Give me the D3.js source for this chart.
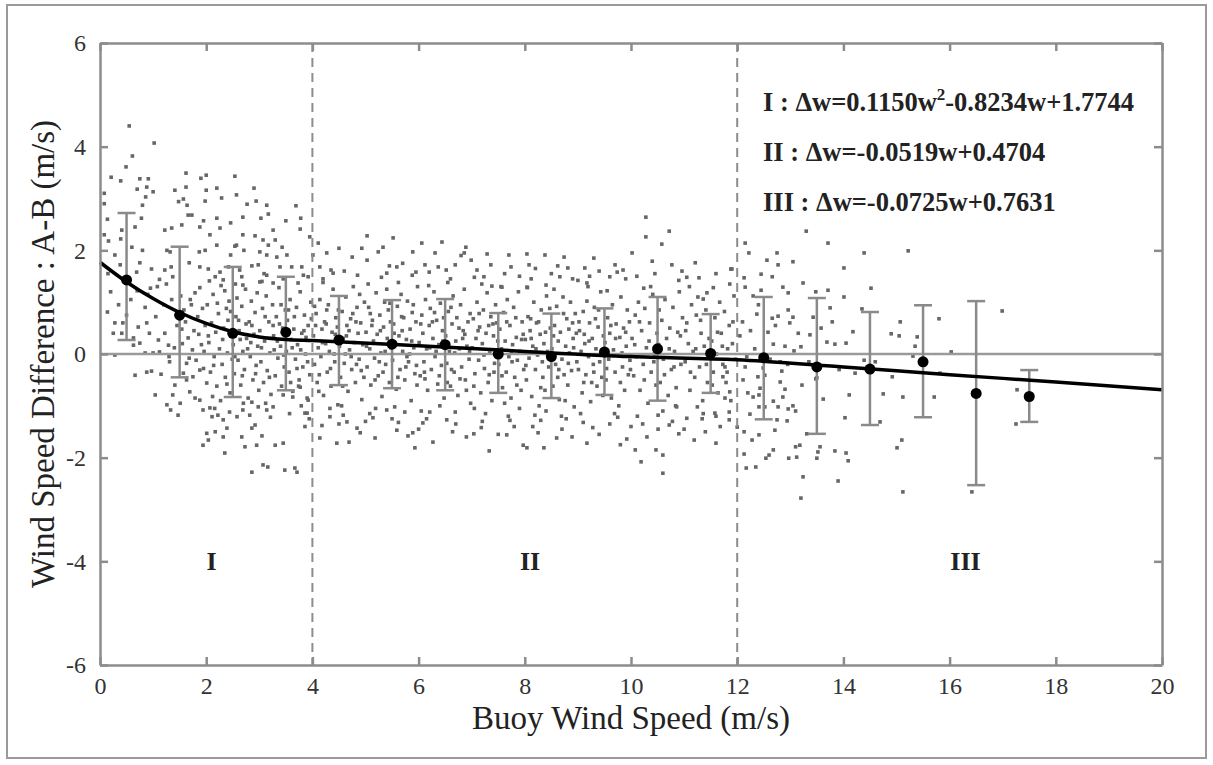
<!DOCTYPE html>
<html>
<head>
<meta charset="utf-8">
<script src="https://cdn.jsdelivr.net/npm/d3@7/dist/d3.min.js"></script>
<style>
  body { margin: 0; background: #fff; }
  svg { display: block; font-family: "Liberation Serif", "Times New Roman", serif; }
  .axis path, .axis line { stroke: #8c8c8c; stroke-width: 2.5; }
  .axis text { font-size: 24px; fill: #333; font-family: "Liberation Serif", serif; }
</style>
</head>
<body>
<div id="chart"></div>
<script>
// tick values
var xTicks = [0, 2, 4, 6, 8, 10, 12, 14, 16, 18, 20];
var yTicks = [-6, -4, -2, 0, 2, 4, 6];

// region boundaries (m/s)
var regionBounds = [4, 12];
var regionNames = ["I", "II", "III"];

// bin means with error bars
var binSpeed = [0.5, 1.5, 2.5, 3.5, 4.5, 5.5, 6.5, 7.5, 8.5, 9.5, 10.5, 11.5, 12.5, 13.5, 14.5, 15.5, 16.5, 17.5];
var binMean = [1.43, 0.75, 0.40, 0.42, 0.27, 0.19, 0.18, 0.00, -0.05, 0.04, 0.10, 0.01, -0.07, -0.25, -0.29, -0.15, -0.76, -0.82];
var binTop = [2.72, 2.07, 1.68, 1.49, 1.12, 1.04, 1.06, 0.79, 0.78, 0.88, 1.10, 0.77, 1.10, 1.08, 0.81, 0.94, 1.02, -0.31];
var binBottom = [0.27, -0.45, -0.83, -0.70, -0.60, -0.66, -0.70, -0.75, -0.85, -0.79, -0.90, -0.75, -1.26, -1.54, -1.37, -1.22, -2.53, -1.31];

// fitted curve
var fitSpeed = [0, 0.5, 1, 1.5, 2, 2.5, 3, 3.5, 4, 6, 8, 10, 12, 14, 16, 18, 20];
var fitDiff = [1.77, 1.39, 1.07, 0.80, 0.59, 0.43, 0.33, 0.28, 0.26, 0.16, 0.05, -0.05, -0.11, -0.25, -0.40, -0.54, -0.69];

// equations
var equations = [
  { lead: "I : \u0394w=0.1150w", sup: "2", tail: "-0.8234w+1.7744" },
  { lead: "II : \u0394w=-0.0519w+0.4704", sup: "", tail: "" },
  { lead: "III : \u0394w=-0.0725w+0.7631", sup: "", tail: "" }
];

// scatter, "speed,diff" pairs, 0-4 m/s
var scatterLow = "0.55,4.40 1.02,4.07 0.61,3.82 0.49,3.61 0.21,3.41 0.39,3.34 0.75,3.38 0.91,3.38 0.70,3.18 0.88,3.22 1.00,3.13 0.86,3.03 0.80,2.87 0.78,2.62 0.08,3.10 0.08,2.90 0.14,2.60 0.08,2.30 0.16,2.18 0.41,2.39 0.39,2.22 0.28,1.91 0.38,1.72 0.66,2.45 0.60,2.06 0.80,2.00 0.75,1.76 0.69,1.58 0.97,1.64 1.12,1.44 0.95,1.27 1.62,3.49 1.90,3.39 2.00,3.45 1.41,3.16 1.62,3.22 2.00,3.16 2.20,3.20 1.48,2.94 1.57,2.99 1.64,2.87 1.98,2.95 2.29,3.01 2.54,3.43 2.57,3.07 2.90,3.20 2.94,2.95 2.77,2.89 3.14,2.87 3.17,2.70 3.03,2.62 3.50,2.57 3.69,2.86 3.78,2.62 3.77,2.41 2.69,2.64 2.46,2.53 1.66,2.68 1.73,2.68 1.95,2.57 2.20,2.62 1.35,2.43 1.22,2.39 1.54,2.49 1.88,2.45 2.07,2.30 2.26,2.43 2.20,2.10 2.54,2.08 2.69,2.30 2.92,2.28 3.07,2.20 3.26,2.39 3.30,2.20 3.43,2.06 3.17,2.10 1.26,2.00 1.32,1.97 1.22,1.62 1.87,1.97 1.98,2.00 1.68,1.76 1.88,1.68 2.04,1.64 2.46,1.91 2.57,2.10 2.42,1.68 2.71,2.00 2.86,1.70 2.98,1.72 3.01,1.97 3.14,1.91 3.33,1.87 3.52,1.91 3.61,1.68 3.80,1.68 3.95,2.26 2.17,1.49 2.32,1.43 2.67,1.49 2.69,1.33 3.01,1.39 3.14,1.52 3.26,1.37 3.39,1.68 3.73,1.37 3.92,1.49 1.34,1.68 1.37,1.49 " +
  "0.14,0.81 0.28,0.60 0.25,0.40 0.41,0.40 0.43,0.60 0.28,-0.02 0.66,-0.41 0.88,-0.35 0.97,-0.33 1.15,-0.39 1.04,-0.79 0.63,0.31 0.63,0.17 0.72,0.52 0.88,0.60 0.93,0.40 0.85,0.02 1.00,0.02 1.12,0.04 1.22,0.40 1.29,0.17 1.10,0.27 0.75,0.21 1.31,-0.15 1.26,-0.98 1.33,-1.08 1.47,-1.18 1.37,-0.79 1.51,-0.95 1.41,-0.60 1.63,-0.50 1.57,-0.37 1.69,-0.73 1.79,-0.85 1.88,-0.89 1.75,-0.44 1.88,-0.31 2.01,-0.56 2.07,-1.04 1.94,-1.08 2.01,-1.53 2.04,-1.66 1.94,-1.76 2.11,-1.21 2.22,-1.18 2.32,-1.27 2.17,-1.50 2.32,-1.60 2.35,-1.91 2.39,-1.43 2.58,-1.21 2.69,-1.08 2.67,-1.60 2.73,-1.79 2.86,-1.43 2.92,-1.37 2.95,-1.76 3.05,-1.58 2.98,-1.02 2.86,-0.93 3.14,-1.08 3.26,-1.02 3.30,-1.76 3.45,-1.72 2.86,-2.28 3.07,-2.14 3.16,-2.18 3.48,-2.24 3.67,-2.20 3.71,-2.28 3.86,-1.14 3.86,-1.40 3.92,-0.89 3.45,-0.79 3.63,-0.83 3.77,-0.64 " +
  "0.20,1.20 0.35,0.95 0.50,0.75 0.58,1.05 0.70,1.22 0.85,0.90 1.05,0.72 1.20,0.95 1.35,1.05 1.45,0.55 1.40,0.12 1.30,-0.05 0.45,1.45 0.15,1.55 0.90,1.15 1.08,1.30 1.25,1.35 " +
  "1.52,1.12 1.58,0.85 1.61,0.62 1.66,0.31 1.70,1.05 1.74,0.08 1.77,0.45 1.81,-0.12 1.84,0.72 1.88,1.28 1.91,0.18 1.95,-0.28 1.98,0.55 1.55,0.20 1.63,-0.18 1.72,0.95 1.86,0.38 1.93,0.88 " +
  "2.02,0.95 2.05,0.22 2.08,-0.35 2.10,0.60 2.13,1.15 2.15,-0.05 2.18,0.42 2.20,-0.62 2.23,0.78 2.25,0.10 2.28,1.32 2.30,-0.20 2.33,0.50 2.36,-0.45 2.38,0.88 2.40,0.02 2.43,1.02 2.45,-0.75 2.47,0.35 2.49,-0.10 2.12,-0.82 2.27,-0.90 2.41,0.65 2.06,1.41 2.35,1.22 " +
  "2.51,0.18 2.53,-0.38 2.56,0.72 2.58,1.08 2.60,-0.12 2.62,0.45 2.65,-0.60 2.67,0.92 2.69,0.05 2.72,-0.30 2.74,1.25 2.76,0.30 2.79,-0.85 2.81,0.62 2.83,-0.05 2.85,1.02 2.88,-0.50 2.90,0.38 2.92,0.80 2.94,-0.22 2.97,0.15 2.99,-0.70 2.55,1.35 2.70,-0.95 2.86,0.55 2.64,0.28 2.78,0.10 " +
  "3.01,0.45 3.03,-0.15 3.06,0.88 3.08,-0.55 3.10,0.25 3.13,1.12 3.15,-0.32 3.18,0.62 3.20,0.02 3.22,-0.78 3.25,0.95 3.27,0.35 3.30,-0.42 3.32,0.72 3.35,-0.08 3.37,1.28 3.40,0.15 3.42,-0.62 3.44,0.50 3.47,-0.25 3.49,0.85 3.12,-0.95 3.28,0.08 3.38,0.58 3.05,1.40 " +
  "3.51,0.05 3.53,0.65 3.56,-0.35 3.58,1.05 3.60,0.28 3.63,-0.72 3.65,0.48 3.68,-0.10 3.70,0.90 3.72,0.18 3.75,-0.50 3.77,1.20 3.80,0.40 3.82,-0.25 3.85,0.75 3.87,0.00 3.90,-0.85 3.92,0.55 3.95,-0.40 3.97,1.00 3.62,0.12 3.74,-0.62 3.88,0.32 3.55,0.85 3.79,-1.00 " +
  "1.54,0.48 1.68,-0.08 1.79,1.18 1.96,0.05 2.04,0.35 2.14,-0.22 2.21,0.98 2.31,0.28 2.39,-0.58 2.46,0.82 2.54,-0.05 2.61,0.65 2.68,-0.42 2.75,0.58 2.84,0.22 2.93,-0.38 2.96,1.18 3.04,0.12 3.11,0.72 3.19,-0.45 3.26,0.55 3.34,0.25 3.41,0.95 3.46,-0.02 3.54,0.38 3.59,-0.55 3.66,0.72 3.71,-0.28 3.78,0.08 3.84,0.45 3.91,-0.15 3.98,0.68 2.16,-1.05 2.44,-1.12 2.82,-1.18 3.21,-1.22 3.57,-1.15 3.94,-1.25 2.26,1.58 2.63,1.62 3.09,1.55 3.45,1.45 3.83,1.52";

// scatter, 4-12 m/s
var scatterMid = "4.01,1.91 5.03,2.28 5.52,2.24 6.06,2.14 4.50,2.04 6.44,2.16 5.24,1.97 5.33,2.06 5.89,1.97 4.27,1.95 4.11,2.14 4.75,1.87 4.93,2.04 6.31,1.95 4.14,1.68 5.03,1.81 5.59,1.68 6.12,1.72 6.37,1.68 4.39,1.56 5.40,1.56 5.88,1.52 " +
  "4.14,-1.62 4.46,-1.72 4.69,-1.70 5.18,-1.62 5.93,-1.81 6.27,-1.70 5.59,-1.47 5.89,-1.52 6.08,-1.33 4.84,-1.43 4.65,-1.31 4.33,-1.21 3.90,-1.14 5.14,-1.23 5.40,-1.08 5.74,-1.12 6.21,-1.12 6.53,-1.27 " +
  "10.28,2.64 10.28,2.26 10.72,2.37 10.58,2.12 10.02,1.95 10.40,1.79 10.77,1.72 10.96,1.60 11.21,1.76 11.28,1.47 10.11,1.50 10.24,1.27 11.88,1.64 11.43,1.18 11.36,1.06 " +
  "10.19,-2.08 10.60,-2.30 10.08,-1.85 10.47,-1.85 10.60,-1.95 9.92,-1.64 10.90,-1.54 11.19,-1.66 11.60,-1.72 10.51,-1.45 10.72,-1.37 10.51,-1.18 10.86,-1.02 11.05,-1.24 11.34,-1.25 11.58,-1.14 7.33,-1.87 8.04,-1.81 8.36,-1.81 9.17,-1.72 7.97,-1.76 7.04,-1.54 8.89,-1.60 8.25,-1.52 7.66,-1.56 " +
  "6.89,2.06 6.86,1.95 7.29,1.93 7.70,1.91 8.04,1.93 8.38,1.91 8.74,1.87 7.36,1.72 7.74,1.68 8.08,1.72 8.81,1.66 9.13,1.66 9.70,1.72 9.74,1.58 7.23,1.49 7.57,1.29 8.04,1.29 8.40,1.33 8.66,1.49 9.17,1.37 9.60,1.49 6.69,1.72 6.99,1.81 7.38,1.31 " +
  "4.60,1.60 5.70,1.75 6.60,1.45 7.10,1.62 7.90,1.50 8.50,1.55 9.00,1.42 9.40,1.60 9.90,1.45 10.90,1.42 11.60,1.55 4.20,1.45 5.30,1.48 6.20,1.58 6.80,1.90 8.20,1.65 8.90,1.45 9.30,1.85 " +
  "4.50,-1.35 5.00,-1.30 5.50,-1.25 6.00,-1.45 6.70,-1.35 7.20,-1.30 7.80,-1.40 8.30,-1.28 8.70,-1.45 9.10,-1.32 9.60,-1.35 10.00,-1.40 11.00,-1.45 11.40,-1.50 4.90,-1.52 5.80,-1.58 6.90,-1.60 7.50,-1.55 8.60,-1.62 9.40,-1.55 9.80,-1.75 10.30,-1.60 " +
  "11.73,-0.44 11.77,-0.25 11.77,-0.85 11.86,-0.73 11.85,-1.12 11.85,-1.27 11.90,1.64 " +
  "4.02,0.35 4.04,-0.20 4.07,0.78 4.09,-0.55 4.11,0.12 4.14,1.05 4.16,-0.05 4.18,0.48 4.21,-0.80 4.23,0.62 4.25,0.20 4.28,-0.35 4.30,0.95 4.32,0.05 4.35,-0.62 4.37,0.42 4.39,1.25 4.42,-0.15 4.44,0.70 4.46,0.28 4.48,-0.98 4.06,0.55 4.20,1.38 4.33,-1.05 4.41,0.00 4.13,-0.40 4.27,0.85 4.47,0.52 " +
  "4.51,0.15 4.53,-0.45 4.56,0.82 4.58,0.30 4.60,-0.18 4.63,1.10 4.65,0.55 4.67,-0.72 4.70,0.08 4.72,0.68 4.74,-0.30 4.77,1.30 4.79,0.22 4.81,-0.55 4.84,0.90 4.86,0.40 4.88,-0.10 4.91,0.60 4.93,-0.88 4.95,0.18 4.98,1.00 4.55,-1.00 4.69,0.45 4.83,-0.20 4.97,-0.45 4.62,0.00 4.76,0.78 4.89,1.15 " +
  "5.01,0.42 5.03,-0.25 5.06,0.90 5.08,0.10 5.10,-0.60 5.13,0.65 5.15,0.25 5.17,-0.08 5.20,1.18 5.22,0.38 5.24,-0.42 5.27,0.75 5.29,0.02 5.31,-0.82 5.34,0.52 5.36,1.00 5.38,-0.20 5.41,0.30 5.43,0.85 5.45,-0.55 5.48,0.12 5.05,1.35 5.19,-1.05 5.33,-0.35 5.47,0.62 5.12,0.55 5.26,-0.15 5.40,1.25 " +
  "5.51,-0.12 5.53,0.58 5.56,0.20 5.58,-0.68 5.60,0.92 5.63,0.35 5.65,-0.30 5.67,1.15 5.70,0.05 5.72,0.70 5.74,-0.50 5.77,0.28 5.79,1.02 5.81,-0.15 5.84,0.48 5.86,-0.90 5.88,0.80 5.91,0.12 5.93,-0.38 5.95,0.62 5.98,1.30 5.55,-1.02 5.69,0.45 5.83,0.00 5.97,-0.60 5.62,1.38 5.76,-0.25 5.90,0.95 " +
  "6.01,0.22 6.03,-0.42 6.06,0.75 6.08,0.40 6.10,-0.15 6.13,1.05 6.15,0.10 6.17,-0.70 6.20,0.55 6.22,0.88 6.24,-0.30 6.27,0.30 6.29,1.20 6.31,-0.05 6.34,0.65 6.36,-0.58 6.38,0.18 6.41,0.98 6.43,-0.22 6.45,0.45 6.48,-0.85 6.05,-1.10 6.19,1.32 6.33,0.05 6.47,0.70 6.12,-0.48 6.26,0.62 6.40,-1.00 " +
  "6.51,0.35 6.53,-0.18 6.56,0.82 6.58,0.05 6.60,-0.62 6.63,0.58 6.65,1.12 6.67,-0.35 6.70,0.25 6.72,0.70 6.74,-0.80 6.77,0.10 6.79,0.95 6.81,-0.25 6.84,0.45 6.86,1.25 6.88,-0.50 6.91,0.15 6.93,0.62 6.95,-0.10 6.98,-0.95 6.55,1.38 6.69,-1.12 6.83,0.30 6.97,0.78 6.62,-0.30 6.76,0.50 6.90,-0.70 " +
  "7.01,0.12 7.03,0.68 7.06,-0.38 7.08,0.30 7.10,1.00 7.13,-0.12 7.15,0.52 7.17,-0.75 7.20,0.20 7.22,0.85 7.24,-0.28 7.27,0.40 7.29,1.18 7.31,-0.55 7.34,0.02 7.36,0.72 7.38,-0.90 7.41,0.35 7.43,-0.18 7.45,0.95 7.48,0.08 7.05,-1.05 7.19,1.35 7.33,-0.40 7.47,0.60 7.12,0.45 7.26,-1.15 7.40,0.58 " +
  "7.51,-0.20 7.53,0.48 7.56,0.10 7.58,-0.65 7.60,0.80 7.63,0.25 7.65,-0.35 7.67,1.05 7.70,-0.05 7.72,0.55 7.74,-0.85 7.77,0.18 7.79,0.90 7.81,-0.45 7.84,0.32 7.86,-0.12 7.88,1.20 7.91,0.05 7.93,-0.70 7.95,0.62 7.98,-0.30 7.55,1.30 7.69,-1.20 7.83,0.70 7.97,0.38 7.62,-0.95 7.76,-0.15 7.90,-1.05 " +
  "8.01,0.28 8.03,-0.50 8.06,0.72 8.08,-0.08 8.10,0.45 8.13,-0.82 8.15,0.15 8.17,1.00 8.20,-0.30 8.22,0.60 8.24,-0.02 8.27,-1.00 8.29,0.38 8.31,0.85 8.34,-0.45 8.36,0.20 8.38,-0.70 8.41,1.12 8.43,0.05 8.45,-0.25 8.48,0.50 8.05,1.28 8.19,-1.18 8.33,-0.15 8.47,0.88 8.12,0.30 8.26,0.62 8.40,-1.10 " +
  "8.51,0.10 8.53,-0.62 8.56,0.55 8.58,-0.20 8.60,0.92 8.63,0.25 8.65,-0.88 8.67,0.42 8.70,-0.10 8.72,1.10 8.74,-0.40 8.77,0.15 8.79,0.68 8.81,-0.60 8.84,0.02 8.86,1.00 8.88,-0.32 8.91,0.30 8.93,-1.02 8.95,0.78 8.98,-0.15 8.55,1.25 8.69,-1.20 8.83,0.48 8.97,0.40 8.62,-0.45 8.76,-0.90 8.90,0.60 " +
  "9.01,-0.30 9.03,0.45 9.06,0.05 9.08,-0.75 9.10,0.82 9.13,0.20 9.15,-0.40 9.17,1.02 9.20,-0.05 9.22,0.60 9.24,-0.92 9.27,0.30 9.29,-0.20 9.31,0.90 9.34,0.10 9.36,-0.62 9.38,0.52 9.41,-0.15 9.43,1.20 9.45,-0.45 9.48,0.35 9.05,-1.15 9.19,1.30 9.33,0.68 9.47,-0.80 9.12,0.38 9.26,-0.55 " +
  "9.51,0.22 9.53,-0.50 9.56,0.70 9.58,-0.10 9.60,0.40 9.63,-0.85 9.65,0.95 9.67,0.08 9.70,-0.35 9.72,0.58 9.74,-0.02 9.77,-1.00 9.79,0.32 9.81,1.10 9.84,-0.25 9.86,0.50 9.88,-0.70 9.91,0.15 9.93,0.85 9.95,-0.40 9.98,-0.12 9.55,1.22 9.69,-1.15 9.83,0.02 9.97,0.62 " +
  "10.02,0.30 10.05,-0.42 10.08,0.75 10.10,-0.05 10.14,1.00 10.17,-0.70 10.20,0.45 10.23,-0.20 10.26,0.88 10.29,0.12 10.32,-0.95 10.35,0.60 10.38,-0.35 10.41,1.15 10.44,0.00 10.47,-0.60 10.49,0.40 10.12,-1.20 10.37,1.30 " +
  "10.52,0.18 10.55,-0.55 10.58,0.65 10.61,-0.10 10.64,1.05 10.67,0.30 10.70,-0.80 10.73,0.50 10.76,-0.30 10.79,0.90 10.82,0.05 10.85,-0.65 10.88,0.42 10.91,1.20 10.94,-0.20 10.97,0.70 10.60,-1.10 10.84,-1.00 " +
  "11.02,-0.15 11.05,0.60 11.08,0.20 11.11,-0.70 11.14,0.95 11.17,0.05 11.20,-0.45 11.23,0.75 11.26,1.10 11.29,-0.25 11.32,0.40 11.35,-0.90 11.38,0.15 11.41,0.85 11.44,-0.55 11.47,0.30 11.10,1.30 11.36,-1.15 " +
  "11.52,0.25 11.55,-0.35 11.58,0.70 11.61,0.00 11.64,-0.75 11.67,1.00 11.70,0.40 11.73,-0.20 11.76,0.82 11.79,-0.55 11.82,0.10 11.85,0.55 11.88,-0.90 11.91,0.20 11.94,1.12 11.97,-0.10 11.60,-1.20 11.86,1.35 " +
  "4.04,0.92 4.12,-0.72 4.19,0.22 4.26,0.58 4.34,-0.28 4.43,0.38 4.49,0.85 4.57,-0.62 4.64,0.35 4.73,-0.05 4.82,0.62 4.92,-0.32 5.02,0.15 5.09,0.78 5.18,-0.50 5.28,0.45 5.37,0.05 5.46,0.98 5.54,0.40 5.61,-0.45 5.68,0.72 5.78,-0.05 5.87,0.25 5.96,-0.22 6.04,0.58 6.11,-0.35 6.21,0.12 6.30,0.80 6.39,-0.42 6.46,0.25 6.54,-0.55 6.61,0.90 6.68,0.02 6.78,-0.48 6.87,0.38 6.96,0.05 7.04,-0.62 7.14,0.78 7.23,-0.02 7.32,0.55 7.42,-0.35 7.49,0.25 7.57,-0.42 7.66,0.62 7.75,0.02 7.85,-0.60 7.94,0.28 8.02,-0.22 8.11,0.68 8.21,0.10 8.30,-0.65 8.39,0.42 8.46,-0.05 8.54,0.35 8.64,-0.30 8.73,0.78 8.82,-0.18 8.92,0.12 9.02,0.62 9.11,-0.55 9.21,0.25 9.30,-0.35 9.39,0.85 9.46,0.05 9.54,-0.28 9.62,0.55 9.71,0.30 9.80,-0.55 9.90,0.42 9.99,-0.30 10.07,0.18 10.16,0.62 10.25,-0.50 10.34,0.25 10.43,-0.15 10.53,0.85 10.63,-0.40 10.72,0.10 10.81,-0.25 10.93,0.35 11.03,0.45 11.12,-0.35 11.22,0.10 11.31,0.65 11.42,-0.20 11.53,-0.60 11.63,0.42 11.72,0.15 11.81,-0.35 11.92,0.62 " +
  "4.18,-1.38 4.58,-1.18 5.08,-1.15 5.62,-1.32 6.15,-1.25 6.64,-1.50 7.18,-1.42 7.72,-1.28 8.15,-1.40 8.78,-1.25 9.28,-1.42 9.75,-1.22 10.22,-1.35 10.78,-1.30 11.25,-1.02 11.68,-1.40 4.35,1.62 4.85,1.52 5.45,1.70 5.95,1.58 6.52,1.62 7.05,1.48 7.62,1.55 8.12,1.45 8.62,1.70 9.22,1.50 9.85,1.62 10.45,1.55 11.05,1.48 11.55,1.28";

// scatter, 12-20 m/s
var scatterHigh = "13.30,2.37 13.71,2.14 14.39,1.95 15.22,1.99 14.01,1.66 14.52,1.27 16.99,0.83 12.15,2.14 12.22,1.95 12.13,1.47 12.15,1.29 12.56,1.81 12.75,1.95 12.77,1.72 13.05,1.78 12.45,1.54 12.66,1.49 13.24,1.37 12.86,1.29 12.96,1.18 12.45,1.23 12.30,1.12 13.48,1.20 13.71,1.23 14.01,1.10 13.75,0.89 12.96,0.85 13.05,0.71 12.77,0.73 12.37,0.77 12.66,0.69 13.43,0.71 13.79,0.62 14.35,0.87 15.07,0.62 15.80,0.68 12.99,0.60 " +
  "16.03,0.04 15.31,-0.04 15.35,0.15 15.39,0.33 14.90,0.39 15.05,0.35 14.18,0.43 14.05,0.21 13.69,0.23 13.84,0.19 13.37,0.37 13.20,0.14 12.90,0.15 12.68,0.19 13.07,0.06 14.39,-0.12 14.60,-0.15 14.22,-0.37 14.92,-0.44 15.82,-0.37 17.27,-0.69 14.75,-0.77 15.12,-0.83 15.71,-0.83 14.11,-0.79 13.62,-0.87 13.22,-0.60 13.48,-0.48 14.03,-1.23 14.69,-1.31 15.10,-1.66 15.01,-1.81 17.25,-1.35 13.84,-1.87 14.05,-1.91 14.09,-2.06 13.56,-1.79 13.52,-1.89 13.50,-2.01 13.24,-2.37 13.90,-2.45 13.20,-2.78 15.12,-2.66 16.42,-2.66 " +
  "13.31,-1.54 13.18,-1.76 13.10,-1.79 12.97,-2.01 13.12,-1.99 12.68,-1.85 12.60,-1.95 12.54,-2.01 12.35,-2.18 12.17,-2.20 12.13,-1.93 12.13,-1.50 12.28,-1.66 12.41,-1.56 12.71,-1.47 12.75,-1.27 12.94,-1.29 13.05,-1.00 13.10,-1.10 12.96,-1.06 12.86,-0.83 12.90,-0.68 12.77,-1.02 12.68,-0.91 12.41,-0.79 12.30,-0.83 12.20,-0.75 12.24,-1.16 12.41,-1.02 12.81,-0.54 12.52,-0.41 12.39,-0.44 12.43,-0.66 12.81,-0.15 12.84,-0.33 12.49,-0.27 12.52,-1.02 12.00,-1.41 12.15,-0.25 12.11,-0.50 13.50,-0.46 " +
  "12.05,0.35 12.10,0.62 12.18,-0.05 12.25,0.45 12.33,0.10 12.40,0.95 12.58,0.42 12.62,-0.10 12.72,0.55 12.95,-0.20 13.15,0.40 13.35,-0.15 13.58,0.50 13.92,-0.30";

function parsePairs(s) {
  return s.trim().split(/\s+/).map(function (p) {
    var v = p.split(",");
    return { speed: +v[0], diff: +v[1] };
  });
}
var scatter = parsePairs(scatterLow).concat(parsePairs(scatterMid), parsePairs(scatterHigh));

var width = 1213, height = 765;
var margin = { top: 43, right: 51, bottom: 100, left: 100 };
var plotW = width - margin.left - margin.right,
  plotH = height - margin.top - margin.bottom;
var serif = '"Liberation Serif", "Times New Roman", serif';

var svg = d3.select('#chart').append('svg')
  .attr('width', width)
  .attr('height', height);

// outer frame
svg.append('rect')
  .attr('x', 7).attr('y', 5)
  .attr('width', 1199).attr('height', 753)
  .attr('fill', 'none')
  .attr('stroke', '#9a9a9a')
  .attr('stroke-width', 2);

var g = svg.append('g')
  .attr('transform', 'translate(' + margin.left + ',' + margin.top + ')');

var x = d3.scaleLinear().domain([0, 20]).range([0, plotW]);
var y = d3.scaleLinear().domain([-6, 6]).range([plotH, 0]);

// scatter points
g.append('g').selectAll('rect')
  .data(scatter)
  .enter().append('rect')
  .attr('x', function (d) { return x(d.speed) - 1.8; })
  .attr('y', function (d) { return y(d.diff) - 1.8; })
  .attr('width', 3.6)
  .attr('height', 3.6)
  .attr('fill', '#666');

// zero line
g.append('line')
  .attr('x1', x(0)).attr('x2', x(20))
  .attr('y1', y(0)).attr('y2', y(0))
  .attr('stroke', '#9a9a9a')
  .attr('stroke-width', 2.5);

// region dividers
g.selectAll('.divider')
  .data(regionBounds)
  .enter().append('line')
  .attr('class', 'divider')
  .attr('x1', function (d) { return x(d); })
  .attr('x2', function (d) { return x(d); })
  .attr('y1', 0).attr('y2', plotH)
  .attr('stroke', '#8c8c8c')
  .attr('stroke-width', 2)
  .attr('stroke-dasharray', '9,6');

// error bars
var bins = binSpeed.map(function (s, i) {
  return { speed: s, mean: binMean[i], top: binTop[i], bottom: binBottom[i] };
});
var capHalf = 9;
var eb = g.append('g').attr('stroke', '#8a8a8a').attr('stroke-width', 2.5);
eb.selectAll('.ebv').data(bins).enter().append('line')
  .attr('x1', function (d) { return x(d.speed); })
  .attr('x2', function (d) { return x(d.speed); })
  .attr('y1', function (d) { return y(d.top); })
  .attr('y2', function (d) { return y(d.bottom); });
eb.selectAll('.ebt').data(bins).enter().append('line')
  .attr('x1', function (d) { return x(d.speed) - capHalf; })
  .attr('x2', function (d) { return x(d.speed) + capHalf; })
  .attr('y1', function (d) { return y(d.top); })
  .attr('y2', function (d) { return y(d.top); });
eb.selectAll('.ebb').data(bins).enter().append('line')
  .attr('x1', function (d) { return x(d.speed) - capHalf; })
  .attr('x2', function (d) { return x(d.speed) + capHalf; })
  .attr('y1', function (d) { return y(d.bottom); })
  .attr('y2', function (d) { return y(d.bottom); });

// fit curve
var fit = fitSpeed.map(function (s, i) { return [s, fitDiff[i]]; });
g.append('path')
  .datum(fit)
  .attr('fill', 'none')
  .attr('stroke', '#000')
  .attr('stroke-width', 3.5)
  .attr('d', d3.line()
    .x(function (d) { return x(d[0]); })
    .y(function (d) { return y(d[1]); })
    .curve(d3.curveMonotoneX));

// bin means
g.selectAll('.mean')
  .data(bins)
  .enter().append('circle')
  .attr('cx', function (d) { return x(d.speed); })
  .attr('cy', function (d) { return y(d.mean); })
  .attr('r', 5.5)
  .attr('fill', '#000');

// axes (box with inward ticks), plain hyphen for negatives
var fmt = function (d) { return String(d); };
function styleAxis(sel) {
  sel.attr('font-family', serif).attr('font-size', 24);
}
g.append('g').attr('class', 'axis')
  .attr('transform', 'translate(0,' + plotH + ')')
  .call(d3.axisBottom(x).tickValues(xTicks).tickSize(-8).tickSizeOuter(0).tickPadding(12).tickFormat(fmt))
  .call(styleAxis);
g.append('g').attr('class', 'axis')
  .call(d3.axisTop(x).tickValues(xTicks).tickSize(-8).tickSizeOuter(0).tickFormat(''));
g.append('g').attr('class', 'axis')
  .call(d3.axisLeft(y).tickValues(yTicks).tickSize(-8).tickSizeOuter(0).tickPadding(14).tickFormat(fmt))
  .call(styleAxis);
g.append('g').attr('class', 'axis')
  .attr('transform', 'translate(' + plotW + ',0)')
  .call(d3.axisRight(y).tickValues(yTicks).tickSize(-8).tickSizeOuter(0).tickFormat(''));

// axis titles
svg.append('text')
  .attr('x', margin.left + plotW / 2)
  .attr('y', 729)
  .attr('text-anchor', 'middle')
  .attr('font-family', serif)
  .style('font-size', '33px')
  .attr('fill', '#222')
  .text('Buoy Wind Speed (m/s)');

svg.append('text')
  .attr('transform', 'translate(54,' + (margin.top + plotH / 2) + ') rotate(-90)')
  .attr('text-anchor', 'middle')
  .attr('font-family', serif)
  .style('font-size', '33px')
  .attr('fill', '#222')
  .text('Wind Speed Difference : A-B (m/s)');

// region labels
var regionX = [2.1, 8.1, 16.3];
g.selectAll('.region')
  .data(regionNames)
  .enter().append('text')
  .attr('x', function (d, i) { return x(regionX[i]); })
  .attr('y', y(-4) + 9)
  .attr('text-anchor', 'middle')
  .attr('font-family', serif)
  .style('font-size', '26px')
  .style('font-weight', 'bold')
  .attr('fill', '#222')
  .text(function (d) { return d; });

// equations
var eq = svg.append('g').attr('font-family', serif);
equations.forEach(function (e, i) {
  var t = eq.append('text')
    .attr('x', 763)
    .attr('y', 111 + i * 50)
    .style('font-size', '26.5px')
    .style('font-weight', 'bold')
    .attr('fill', '#222');
  t.append('tspan').text(e.lead);
  if (e.sup) {
    t.append('tspan').attr('dy', -11).style('font-size', '17px').text(e.sup);
    t.append('tspan').attr('dy', 11).text(e.tail);
  }
});
</script>
</body>
</html>
